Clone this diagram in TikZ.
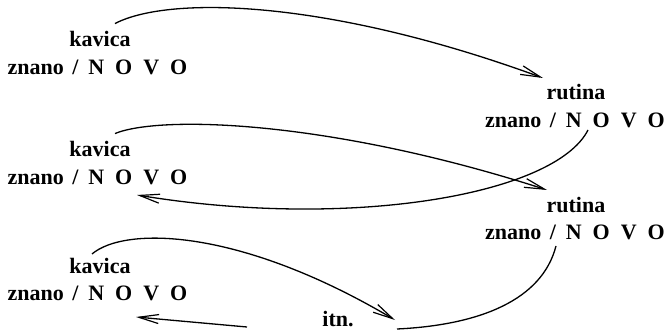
\documentclass[tikz,border=0pt]{standalone}
\usepackage{fontspec}
\setmainfont{Liberation Serif}[BoldFont={Liberation Serif Bold}]
\usetikzlibrary{arrows.meta}
\newcommand\znovo{znano\hspace{.38em}/\hspace{.45em}N\hspace{.5em}O\hspace{.5em}V\hspace{.5em}O}
\begin{document}
\begin{tikzpicture}[x=1pt,y=-1pt,
  lbl/.style={font=\fontsize{22}{26}\selectfont\rmfamily\bfseries, inner sep=0pt, anchor=base},
  conn/.style={line width=1.3pt},
  arr/.style={conn,-{Straight Barb[length=20pt,width=9pt,line width=1.2pt]}}]
\useasboundingbox (0,0) rectangle (669,331);
% labels
\node[lbl] (k1) at (100,47) {kavica};
\node[lbl] (z1) at (97.5,75) {\znovo};
\node[lbl] (r1) at (576,100) {rutina};
\node[lbl] (zr1) at (575,128) {\znovo};
\node[lbl] (k2) at (100,157) {kavica};
\node[lbl] (z2) at (97.5,185) {\znovo};
\node[lbl] (r2) at (576,213) {rutina};
\node[lbl] (zr2) at (575,239) {\znovo};
\node[lbl] (k3) at (100,273) {kavica};
\node[lbl] (z3) at (97.5,300) {\znovo};
\node[lbl] (itn) at (338,326) {itn.};
% connector end points
\coordinate (a1s) at ([xshift=15pt,yshift=8pt]k1.north);
\coordinate (a1e) at (543,78);
\coordinate (a2s) at (588,130);
\coordinate (a2e) at (137,195);
\coordinate (a3s) at ([xshift=15pt,yshift=8pt]k2.north);
\coordinate (a3e) at (547,190);
\coordinate (a4s) at (556,246);
\coordinate (a4e) at (397,329);
\coordinate (a5s) at (92,254);
\coordinate (a5e) at (395,320);
\coordinate (a6s) at (247,327);
\coordinate (a6e) at (136,317);
% connectors
\draw[arr] (a1s) .. controls (170,-5) and (330,0) .. (a1e);
\draw[arr] (a2s) .. controls (555,195) and (350,230) .. (a2e);
\draw[arr] (a3s) .. controls (160,115) and (330,120) .. (a3e);
\draw[conn] (a4s) .. controls (542,300) and (480,325) .. (a4e);
\draw[arr] (a5s) .. controls (125,226) and (240,228) .. (a5e);
\draw[arr] (a6s) -- (a6e);
\end{tikzpicture}
\end{document}
